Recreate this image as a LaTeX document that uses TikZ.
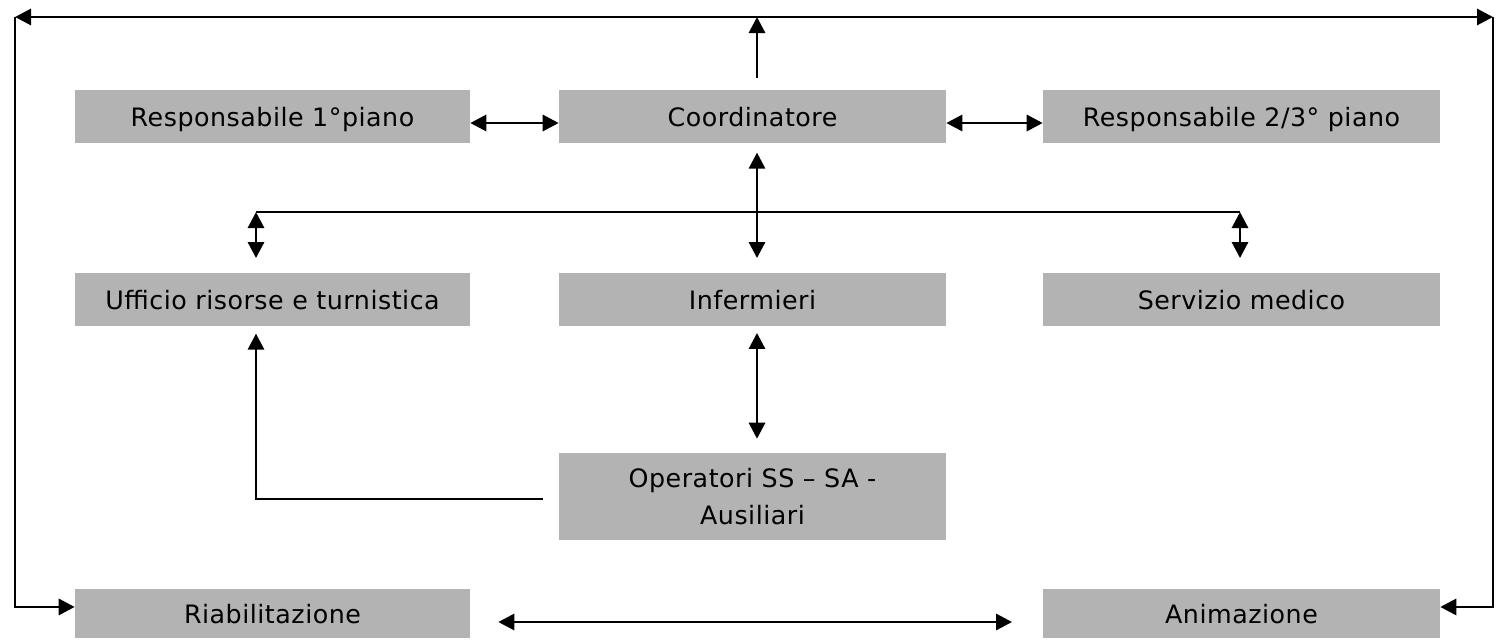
\documentclass[tikz,border=0pt]{standalone}
\usepackage{fontspec}
\setmainfont{DejaVu Sans}[LetterSpace=2]
\usetikzlibrary{arrows.meta}
\definecolor{boxgray}{RGB}{179,179,179}
\begin{document}
\begin{tikzpicture}[x=0.75pt,y=-0.75pt,
  font=\fontsize{19}{28}\selectfont,
  box/.style={fill=boxgray,inner sep=0pt,text=black},
  oneline/.style={text height=15.5pt,text depth=0pt},
  colL/.style={box,minimum width=296.25pt},
  colM/.style={box,minimum width=290.25pt},
  colR/.style={box,minimum width=297.75pt},
  rowA/.style={oneline,minimum height=39.75pt},
  rowB/.style={oneline,minimum height=39.75pt},
  rowC/.style={oneline,minimum height=36.75pt},
  con/.style={line width=2.2pt,draw=black},
  tip/.style={-{Triangle[length=12pt,width=12pt]}},
  dtip/.style={{Triangle[length=12pt,width=12pt]}-{Triangle[length=12pt,width=12pt]}}]
\useasboundingbox (0,0) rectangle (1509,639);
% nodes
\node[colL,rowA] (res1) at (272.5,116.5) {Responsabile 1°piano};
\node[colM,rowA] (coord) at (752.5,116.5) {Coordinatore};
\node[colR,rowA] (res2) at (1241.5,116.5) {Responsabile 2/3° piano};
\node[colL,rowB] (uff) at (272.5,299.5) {Ufficio risorse e turnistica};
\node[colM,rowB] (inf) at (752.5,299.5) {Infermieri};
\node[colR,rowB] (serv) at (1241.5,299.5) {Servizio medico};
\node[colM,minimum height=65.25pt,align=center] (oper) at (752.5,496.5) {Operatori SS – SA -\\Ausiliari};
\node[colL,rowC] (riab) at (272.5,613.5) {Riabilitazione};
\node[colR,rowC] (anim) at (1241.5,613.5) {Animazione};
% junctions
\coordinate (topc) at (757,17);
\coordinate (tl) at (15,17);
\coordinate (tr) at (1493,17);
\coordinate (hl) at (256,212);
\coordinate (hr) at (1240,212);
\coordinate (ol) at (256,499);
% connectors
\draw[con,tip,shorten <=9pt] (coord.north -| topc) -- (topc);
\draw[con,tip] (topc) -- (tl);
\draw[con,tip] (topc) -- (tr);
\draw[con,tip] (tl) |- ([yshift=4.9pt]riab.west);
\draw[con,tip] (tr) |- ([yshift=4.9pt]anim.east);
\draw[con,dtip] (res1.east |- 0,123) -- (coord.west |- 0,123);
\draw[con,dtip] (coord.east |- 0,123) -- (res2.west |- 0,123);
\draw[con,dtip,shorten <=7pt,shorten >=11pt] (coord.south -| topc) -- (inf.north -| topc);
\draw[con] (hl) -- (hr);
\draw[con,dtip,shorten >=11pt] (hl) -- (uff.north -| hl);
\draw[con,dtip,shorten >=11pt] (hr) -- (serv.north -| hr);
\draw[con,dtip,shorten <=5pt,shorten >=10.5pt] (inf.south -| topc) -- (oper.north -| topc);
\draw[con,tip,shorten <=12pt,shorten >=5.5pt] (oper.west |- ol) -- (ol) -- (uff.south -| ol);
\draw[con,dtip,shorten <=21pt,shorten >=23pt] (riab.east |- 0,622) -- (anim.west |- 0,622);
\end{tikzpicture}
\end{document}
